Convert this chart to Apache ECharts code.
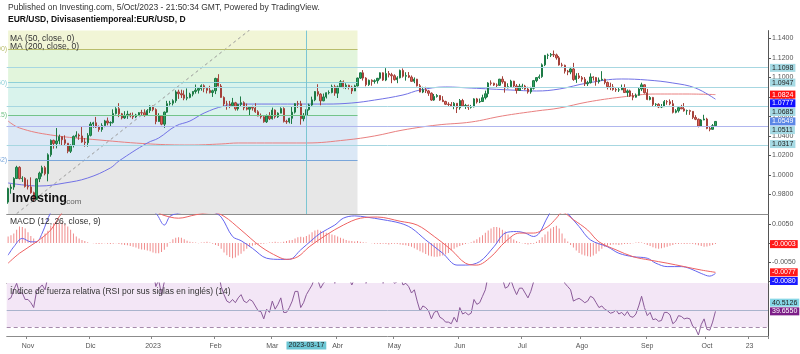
<!DOCTYPE html>
<html>
<head>
<meta charset="utf-8">
<script src="https://cdn.jsdelivr.net/npm/echarts@6/dist/echarts.min.js"></script>
<style>
html,body{margin:0;padding:0;background:#fff}
#chart{width:800px;height:354px}
</style>
</head>
<body>
<div id="chart"></div>
<script>
// EUR/USD diario, 21 oct 2022 - 5 oct 2023
var firstDay = '2022-10-21';
var lastDay = '2023-10-31';   // el eje sigue vacío después de la última vela

// [apertura, cierre, mínimo, máximo] por sesión
var candles = [
  [0.9722,0.9861,0.9705,0.9870],
  [0.9861,0.9876,0.9808,0.9905],[0.9876,0.9964,0.9848,0.9977],[0.9964,1.0078,0.9960,1.0094],[1.0078,0.9963,0.9955,1.0090],[0.9963,0.9966,0.9929,0.9987],
  [0.9966,0.9882,0.9871,0.9977],[0.9882,0.9878,0.9851,0.9953],[0.9878,0.9818,0.9808,0.9976],[0.9818,0.9749,0.9730,0.9829],[0.9749,0.9960,0.9744,0.9966],
  [0.9960,1.0019,0.9927,1.0034],[1.0019,1.0075,0.9983,1.0095],[1.0075,1.0013,0.9996,1.0093],[1.0013,1.0207,0.9935,1.0222],[1.0207,1.0355,1.0187,1.0364],
  [1.0355,1.0322,1.0270,1.0362],[1.0322,1.0349,1.0273,1.0481],[1.0349,1.0393,1.0315,1.0414],[1.0393,1.0361,1.0302,1.0395],[1.0361,1.0325,1.0300,1.0406],
  [1.0325,1.0243,1.0223,1.0328],[1.0243,1.0304,1.0225,1.0313],[1.0304,1.0395,1.0282,1.0405],[1.0395,1.0409,1.0383,1.0448],[1.0409,1.0400,1.0360,1.0425],
  [1.0400,1.0338,1.0330,1.0497],[1.0338,1.0330,1.0290,1.0379],[1.0330,1.0406,1.0290,1.0429],[1.0406,1.0522,1.0395,1.0544],[1.0522,1.0535,1.0484,1.0545],
  [1.0535,1.0491,1.0482,1.0595],[1.0491,1.0466,1.0443,1.0507],[1.0466,1.0506,1.0443,1.0530],[1.0506,1.0554,1.0490,1.0565],[1.0554,1.0533,1.0509,1.0589],
  [1.0533,1.0538,1.0497,1.0550],[1.0538,1.0629,1.0527,1.0673],[1.0629,1.0679,1.0620,1.0695],[1.0679,1.0627,1.0593,1.0736],[1.0627,1.0585,1.0570,1.0636],
  [1.0585,1.0607,1.0575,1.0654],[1.0607,1.0622,1.0575,1.0658],[1.0622,1.0605,1.0590,1.0637],[1.0605,1.0595,1.0573,1.0640],[1.0595,1.0615,1.0583,1.0627],
  [1.0615,1.0639,1.0608,1.0645],[1.0639,1.0637,1.0610,1.0668],[1.0637,1.0612,1.0596,1.0673],[1.0612,1.0661,1.0609,1.0675],[1.0661,1.0705,1.0636,1.0714],
  [1.0705,1.0670,1.0653,1.0711],[1.0670,1.0548,1.0520,1.0683],[1.0548,1.0606,1.0545,1.0633],[1.0606,1.0521,1.0510,1.0612],[1.0521,1.0644,1.0483,1.0651],
  [1.0644,1.0731,1.0637,1.0760],[1.0731,1.0735,1.0712,1.0760],[1.0735,1.0761,1.0713,1.0776],[1.0761,1.0851,1.0740,1.0868],[1.0851,1.0833,1.0780,1.0874],
  [1.0833,1.0821,1.0789,1.0874],[1.0821,1.0787,1.0766,1.0867],[1.0787,1.0795,1.0766,1.0887],[1.0795,1.0828,1.0786,1.0843],[1.0828,1.0856,1.0806,1.0858],
  [1.0856,1.0869,1.0834,1.0927],[1.0869,1.0886,1.0835,1.0888],[1.0886,1.0915,1.0864,1.0929],[1.0915,1.0889,1.0848,1.0929],[1.0889,1.0868,1.0836,1.0900],
  [1.0868,1.0845,1.0836,1.0914],[1.0845,1.0863,1.0800,1.0874],[1.0863,1.0989,1.0829,1.0997],[1.0989,1.0912,1.0908,1.1033],[1.0912,1.0795,1.0792,1.0932],
  [1.0795,1.0728,1.0707,1.0806],[1.0728,1.0727,1.0669,1.0760],[1.0727,1.0711,1.0685,1.0759],[1.0711,1.0740,1.0708,1.0790],[1.0740,1.0678,1.0660,1.0750],
  [1.0678,1.0723,1.0660,1.0730],[1.0723,1.0741,1.0701,1.0805],[1.0741,1.0688,1.0664,1.0755],[1.0688,1.0674,1.0662,1.0732],[1.0674,1.0694,1.0612,1.0700],
  [1.0694,1.0686,1.0660,1.0710],[1.0686,1.0648,1.0637,1.0736],[1.0648,1.0604,1.0602,1.0664],[1.0604,1.0596,1.0577,1.0630],[1.0596,1.0545,1.0536,1.0603],
  [1.0545,1.0605,1.0533,1.0620],[1.0605,1.0576,1.0563,1.0644],[1.0576,1.0665,1.0569,1.0691],[1.0665,1.0596,1.0578,1.0672],[1.0596,1.0634,1.0585,1.0642],
  [1.0634,1.0681,1.0633,1.0694],[1.0681,1.0549,1.0538,1.0694],[1.0549,1.0545,1.0524,1.0566],[1.0545,1.0581,1.0529,1.0586],[1.0581,1.0644,1.0523,1.0702],
  [1.0644,1.0731,1.0630,1.0736],[1.0731,1.0729,1.0687,1.0759],[1.0729,1.0577,1.0516,1.0760],[1.0577,1.0611,1.0550,1.0635],[1.0611,1.0670,1.0610,1.0716],
  [1.0670,1.0717,1.0660,1.0731],[1.0717,1.0770,1.0708,1.0803],[1.0770,1.0855,1.0756,1.0859],[1.0855,1.0828,1.0806,1.0930],[1.0828,1.0760,1.0714,1.0838],
  [1.0760,1.0800,1.0756,1.0835],[1.0800,1.0843,1.0784,1.0846],[1.0843,1.0845,1.0826,1.0867],[1.0845,1.0905,1.0837,1.0926],[1.0905,1.0839,1.0812,1.0925],
  [1.0839,1.0903,1.0789,1.0917],[1.0903,1.0955,1.0893,1.0973],[1.0955,1.0905,1.0887,1.0970],[1.0905,1.0920,1.0880,1.0940],[1.0920,1.0901,1.0877,1.0925],
  [1.0901,1.0861,1.0831,1.0915],[1.0861,1.0913,1.0860,1.0925],[1.0913,1.0993,1.0907,1.0998],[1.0993,1.1047,1.0984,1.1050],[1.1047,1.0993,1.0968,1.1075],
  [1.0993,1.0926,1.0909,1.1002],[1.0926,1.0971,1.0913,1.0978],[1.0971,1.0959,1.0915,1.0980],[1.0959,1.0966,1.0936,1.0980],[1.0966,1.0991,1.0937,1.0995],
  [1.0991,1.1047,1.0978,1.1051],[1.1047,1.0973,1.0964,1.1052],[1.0973,1.1040,1.0962,1.1095],[1.1040,1.1028,1.1000,1.1066],[1.1028,1.1017,1.0941,1.1047],
  [1.1017,1.0977,1.0967,1.1032],[1.0977,1.0996,1.0941,1.1012],[1.0996,1.1072,1.0990,1.1080],[1.1072,1.1012,1.0998,1.1092],[1.1012,1.1019,1.0967,1.1053],
  [1.1019,1.1003,1.0993,1.1055],[1.1003,1.0960,1.0955,1.1020],[1.0960,1.0982,1.0941,1.1000],[1.0982,1.0914,1.0907,1.0985],[1.0914,1.0850,1.0848,1.0932],
  [1.0850,1.0874,1.0839,1.0904],[1.0874,1.0862,1.0840,1.0904],[1.0862,1.0838,1.0811,1.0872],[1.0838,1.0768,1.0760,1.0847],[1.0768,1.0805,1.0760,1.0830],
  [1.0805,1.0815,1.0793,1.0829],[1.0815,1.0768,1.0760,1.0818],[1.0768,1.0753,1.0747,1.0808],[1.0753,1.0725,1.0717,1.0761],[1.0725,1.0723,1.0705,1.0746],
  [1.0723,1.0708,1.0699,1.0747],[1.0708,1.0735,1.0674,1.0747],[1.0735,1.0689,1.0635,1.0736],[1.0689,1.0763,1.0669,1.0779],[1.0763,1.0708,1.0703,1.0780],
  [1.0708,1.0713,1.0677,1.0729],[1.0713,1.0694,1.0667,1.0722],[1.0694,1.0699,1.0681,1.0718],[1.0699,1.0780,1.0693,1.0787],[1.0780,1.0749,1.0732,1.0790],
  [1.0749,1.0753,1.0737,1.0784],[1.0753,1.0792,1.0750,1.0823],[1.0792,1.0833,1.0774,1.0865],[1.0833,1.0943,1.0797,1.0951],[1.0943,1.0940,1.0918,1.0970],
  [1.0940,1.0922,1.0913,1.0946],[1.0922,1.0919,1.0897,1.0939],[1.0919,1.0982,1.0912,1.0985],[1.0982,1.0955,1.0936,1.1012],[1.0955,1.0893,1.0844,1.0960],
  [1.0893,1.0905,1.0888,1.0940],[1.0905,1.0962,1.0898,1.0976],[1.0962,1.0912,1.0897,1.0965],[1.0912,1.0866,1.0834,1.0932],[1.0866,1.0910,1.0864,1.0934],
  [1.0910,1.0911,1.0883,1.0935],[1.0911,1.0881,1.0873,1.0924],[1.0881,1.0852,1.0834,1.0904],[1.0852,1.0889,1.0833,1.0904],[1.0889,1.0967,1.0876,1.0974],
  [1.0967,1.0998,1.0951,1.1001],[1.0998,1.1008,1.0984,1.1030],[1.1008,1.1129,1.0996,1.1144],[1.1129,1.1226,1.1116,1.1230],[1.1226,1.1228,1.1188,1.1244],
  [1.1228,1.1236,1.1209,1.1250],[1.1236,1.1231,1.1209,1.1276],[1.1231,1.1201,1.1182,1.1244],[1.1201,1.1128,1.1121,1.1219],[1.1128,1.1124,1.1110,1.1150],
  [1.1124,1.1064,1.1040,1.1131],[1.1064,1.1055,1.1023,1.1077],[1.1055,1.1087,1.1033,1.1108],[1.1087,1.0978,1.0965,1.1149],[1.0978,1.1016,1.0944,1.1043],
  [1.1016,1.0997,1.0984,1.1046],[1.0997,1.0982,1.0956,1.1014],[1.0982,1.0935,1.0912,1.1004],[1.0935,1.0946,1.0912,1.0965],[1.0946,1.1005,1.0938,1.1042],
  [1.1005,1.0999,1.0968,1.1013],[1.0999,1.0957,1.0915,1.1005],[1.0957,1.0974,1.0937,1.0999],[1.0974,1.0981,1.0967,1.1064],[1.0981,1.0948,1.0929,1.0987],
  [1.0948,1.0906,1.0877,1.0958],[1.0906,1.0903,1.0870,1.0946],[1.0903,1.0876,1.0864,1.0932],[1.0876,1.0871,1.0852,1.0893],[1.0871,1.0873,1.0851,1.0895],
  [1.0873,1.0896,1.0870,1.0927],[1.0896,1.0845,1.0843,1.0930],[1.0845,1.0862,1.0802,1.0877],[1.0862,1.0810,1.0800,1.0874],[1.0810,1.0797,1.0766,1.0840],
  [1.0797,1.0817,1.0793,1.0835],[1.0817,1.0881,1.0812,1.0891],[1.0881,1.0924,1.0860,1.0946],[1.0924,1.0843,1.0834,1.0930],[1.0843,1.0774,1.0767,1.0882],
  [1.0774,1.0795,1.0765,1.0808],[1.0795,1.0723,1.0705,1.0800],[1.0723,1.0725,1.0702,1.0736],[1.0725,1.0697,1.0686,1.0735],[1.0697,1.0700,1.0686,1.0727],
  [1.0700,1.0752,1.0699,1.0768],[1.0752,1.0751,1.0720,1.0767],[1.0751,1.0730,1.0715,1.0775],[1.0730,1.0642,1.0631,1.0768],[1.0642,1.0658,1.0632,1.0675],
  [1.0658,1.0690,1.0640,1.0699],[1.0690,1.0678,1.0675,1.0719],[1.0678,1.0658,1.0649,1.0737],[1.0658,1.0660,1.0617,1.0670],[1.0660,1.0652,1.0616,1.0669],
  [1.0652,1.0590,1.0573,1.0655],[1.0590,1.0571,1.0562,1.0613],[1.0571,1.0502,1.0488,1.0579],[1.0502,1.0564,1.0496,1.0573],[1.0564,1.0573,1.0561,1.0617],
  [1.0573,1.0477,1.0469,1.0586],[1.0477,1.0468,1.0448,1.0497],[1.0468,1.0505,1.0466,1.0522],[1.0505,1.0549,1.0497,1.0553]
];

// medias móviles [fecha, valor]
var ma50 = [
  ['2022-10-21',0.9918],['2022-11-07',0.9887],['2022-11-18',0.9918],['2022-11-30',0.9969],['2022-12-12',1.0072],
  ['2022-12-15',1.0143],['2022-12-29',1.0328],['2023-01-04',1.0379],['2023-01-12',1.0502],['2023-01-19',1.0553],
  ['2023-01-26',1.0635],['2023-02-06',1.0707],['2023-02-14',1.0727],['2023-03-13',1.0727],['2023-03-28',1.0727],
  ['2023-04-10',1.0738],['2023-04-20',1.0768],['2023-05-04',1.0820],['2023-05-12',1.0871],['2023-05-25',1.0902],
  ['2023-06-07',1.0891],['2023-06-16',1.0881],['2023-06-27',1.0871],['2023-07-10',1.0861],['2023-07-20',1.0881],
  ['2023-08-03',1.0943],['2023-08-21',1.0984],['2023-09-01',1.0973],['2023-09-14',1.0943],['2023-09-26',1.0891],
  ['2023-10-05',1.0777]
];
var ma200 = [
  ['2022-10-21',1.0553],['2022-10-27',1.0482],['2022-11-11',1.0410],['2022-12-06',1.0359],['2022-12-30',1.0318],
  ['2023-01-19',1.0307],['2023-02-03',1.0318],['2023-02-13',1.0328],['2023-03-17',1.0328],['2023-04-06',1.0359],
  ['2023-04-20',1.0400],['2023-05-04',1.0461],['2023-05-22',1.0512],['2023-06-07',1.0543],['2023-06-22',1.0605],
  ['2023-07-10',1.0656],['2023-07-20',1.0686],['2023-08-03',1.0748],['2023-08-21',1.0799],['2023-09-06',1.0830],
  ['2023-09-21',1.0830],['2023-10-05',1.0824]
];

// Fibonacci (zona izquierda) y líneas horizontales
var fibEnd = '2023-04-12';
var fibBands = [[1.1480,1.1290,'#f1f5d6'],[1.1290,1.0947,'#e2f5dc'],[1.0947,1.0615,'#d9f3ec'],[1.0615,1.0152,'#dbe8f6'],[1.0152,0.9600,'#e7e7e7']];
var fibLevels = [[1.1290,'#b9bd6c','(1.1290)'],[1.0615,'#74c48a','(1.0615)'],[1.0152,'#7aa6da','(1.0152)'],[1.0947,'#8fd0d8','(1.0950)']];
var hLines = [1.1098, 1.0947, 1.0685, 1.0511, 1.0317];
var trendLine = [['2022-10-26',0.9604],['2023-02-17',1.1486]];
var markedDay = '2023-03-17';

// MACD (12, 26, 9)
var macdLine = [
  ['2022-10-21',-0.0032],['2022-10-25',-0.0010],['2022-10-28',0.0012],['2022-11-02',0.0003],['2022-11-04',0.0003],
  ['2022-11-08',0.0026],['2022-11-11',0.0080],['2022-11-18',0.0133],['2022-11-25',0.0140],['2022-12-02',0.0135],
  ['2022-12-16',0.0118],['2022-12-28',0.0095],['2023-01-03',0.0078],['2023-01-06',0.0047],['2023-01-10',0.0070],
  ['2023-01-13',0.0078],['2023-01-18',0.0083],['2023-01-25',0.0090],['2023-01-31',0.0082],['2023-02-03',0.0068],
  ['2023-02-09',0.0017],['2023-02-14',0.0006],['2023-02-20',-0.0014],['2023-02-27',-0.0040],['2023-03-06',-0.0043],
  ['2023-03-09',-0.0043],['2023-03-15',-0.0018],['2023-03-21',0.0008],['2023-03-24',0.0026],['2023-03-31',0.0047],
  ['2023-04-05',0.0065],['2023-04-11',0.0071],['2023-04-17',0.0068],['2023-04-25',0.0061],['2023-05-03',0.0052],
  ['2023-05-09',0.0039],['2023-05-16',0.0008],['2023-05-24',-0.0027],['2023-05-31',-0.0058],['2023-06-05',-0.0058],
  ['2023-06-12',-0.0049],['2023-06-19',-0.0010],['2023-06-23',0.0026],['2023-06-29',0.0030],['2023-07-04',0.0026],
  ['2023-07-07',0.0017],['2023-07-11',0.0026],['2023-07-14',0.0069],['2023-07-19',0.0100],['2023-07-21',0.0098],
  ['2023-07-25',0.0078],['2023-07-31',0.0043],['2023-08-04',0.0008],['2023-08-14',-0.0010],['2023-08-18',-0.0027],
  ['2023-08-25',-0.0036],['2023-09-01',-0.0040],['2023-09-06',-0.0053],['2023-09-12',-0.0062],['2023-09-19',-0.0062],
  ['2023-09-22',-0.0067],['2023-09-28',-0.0080],['2023-10-03',-0.0087],['2023-10-05',-0.0080]
];
var signalLine = [
  ['2022-10-21',-0.0053],['2022-10-27',-0.0027],['2022-11-04',0.0003],['2022-11-11',0.0034],['2022-11-17',0.0079],
  ['2022-11-25',0.0115],['2022-12-06',0.0130],['2022-12-20',0.0125],['2022-12-30',0.0105],['2023-01-04',0.0079],
  ['2023-01-10',0.0068],['2023-01-13',0.0065],['2023-01-23',0.0074],['2023-01-31',0.0080],['2023-02-06',0.0070],
  ['2023-02-14',0.0034],['2023-02-23',-0.0010],['2023-03-03',-0.0036],['2023-03-08',-0.0043],['2023-03-14',-0.0036],
  ['2023-03-20',-0.0010],['2023-03-28',0.0021],['2023-04-05',0.0047],['2023-04-13',0.0065],['2023-04-21',0.0068],
  ['2023-05-03',0.0057],['2023-05-11',0.0047],['2023-05-19',0.0017],['2023-05-29',-0.0018],['2023-06-05',-0.0053],
  ['2023-06-09',-0.0058],['2023-06-16',-0.0036],['2023-06-23',0.0003],['2023-06-30',0.0026],['2023-07-07',0.0026],
  ['2023-07-14',0.0043],['2023-07-19',0.0065],['2023-07-21',0.0080],['2023-07-27',0.0061],['2023-08-03',0.0034],
  ['2023-08-09',0.0003],['2023-08-17',-0.0018],['2023-08-25',-0.0036],['2023-09-04',-0.0045],['2023-09-12',-0.0053],
  ['2023-09-20',-0.0062],['2023-09-28',-0.0071],['2023-10-05',-0.0077]
];
// histograma, en unidades de 0.0001
var macdHist = [
  17,20,25,35,43,42,38,28,18,12, 5,4,15,25,32,45,52,55,56,54, 50,43,35,25,17,12,8,5,2,0,
  -1,-2,-3,-2,-1,-2,-3,-2,-1,-3, -4,-5,-6,-8,-10,-12,-15,-17,-18,-20, -22,-25,-27,-27,-24,-18,-10,2,10,14,
  15,14,10,6,3,2,1,-1,1,2, 3,1,-2,-5,-8,-15,-25,-32,-37,-40, -38,-33,-28,-22,-15,-10,-7,-5,-4,-3,
  -2,-1,1,2,3,2,1,3,5,7, 8,12,15,16,15,18,22,28,33,35, 32,30,27,25,22,20,17,14,11,8,
  6,5,4,5,3,2,1,0,-1,-2, -2,-3,-2,-3,-4,-3,-2,-3,-4,-5, -6,-8,-10,-14,-18,-22,-25,-29,-33,-35,
  -36,-36,-35,-33,-30,-26,-20,-15,-11,-8, -5,-3,-1,2,6,10,15,20,27,33, 38,42,42,40,35,30,22,15,9,5,
  2,-1,-3,-4,-3,-2,3,8,15,22, 30,38,42,45,38,25,12,4,-5,-12, -20,-26,-30,-33,-35,-36,-33,-28,-22,-15,
  -10,-7,-5,-4,-4,-5,-4,-3,-3,-2, -1,1,2,1,-2,-5,-8,-11,-14,-15, -14,-12,-10,-7,-5,-3,-3,-2,-3,-3,
  -2,-3,-4,-6,-8,-10,-9,-7,-5,-3
];

// RSI (14), una lectura por sesión
var rsi = [
  47,48,53,57,51,51,47,47,45,42, 52,54,56,53,61,66,64,65,67,65, 63,58,61,64,65,64,61,60,63,68,
  68,65,63,65,67,66,66,70,72,67, 64,65,66,64,63,64,65,65,63,66, 68,65,55,59,50,58,63,63,65,70,
  68,67,64,64,66,67,68,69,70,67, 65,63,64,71,64,55,50,46,45,47, 45,48,50,46,45,47,46,43,40,39.5,
  35,41,39,46,41,44,48,39,39,42, 46,52,52,42,45,50,53,56,61,59, 54,57,59,59,62,57,61,64,60,61,
  60,56,60,65,68,63,57,60,59,59, 61,65,57,62,61,60,57,58,62,56, 57,55,51,53,46,40,43,42,40,35,
  39,40,36,35,33,33,32,36,33,42, 38,39,37.5,38.5,47,44,45,49,53,62, 61,59,59,63,60,54,55,59,54,50,
  54,54,51,48,52,58,61,62,69,74, 74,75,74,71,63,62,57,55,53,46, 47,47.7,46.5,45,46,49,48,45,42,43,
  41,40,38.5,39,40.5,38,39,37,39.5,36.5, 36,38,43,49,42,37,39,34.5,35,33.5, 34,39,39,37.5,32,33.5,37,36.5,35,35.5,
  35,30.5,29,25,31.5,35,28.5,28,33,39.655
];
var rsiLevel = 40.5126;

var timeTicks = [
  ['2022-11-01','Nov'],['2022-12-01','Dic'],['2023-01-02','2023'],['2023-02-01','Feb'],['2023-03-01','Mar'],
  ['2023-04-03','Abr'],['2023-05-01','May'],['2023-06-01','Jun'],['2023-07-03','Jul'],['2023-08-01','Ago'],
  ['2023-09-01','Sep'],['2023-10-02','Oct'],['2023-10-23','23']
];

function weekdays(a, b) {
  var out = [], d = new Date(a + 'T00:00:00Z'), e = new Date(b + 'T00:00:00Z');
  while (d <= e) {
    var w = d.getUTCDay();
    if (w !== 0 && w !== 6) out.push(d.toISOString().slice(0, 10));
    d.setUTCDate(d.getUTCDate() + 1);
  }
  return out;
}
var days = weekdays(firstDay, lastDay);
var tickMap = {};
timeTicks.forEach(function (t) { tickMap[t[0]] = t[1]; });

var FONT = '"Liberation Sans", Arial, sans-serif';
var chart = echarts.init(document.getElementById('chart'));
var noLabel = {show: false};

// bandas y líneas de Fibonacci
var fibAreas = fibBands.map(function (b) {
  return [{xAxis: firstDay, yAxis: b[0], itemStyle: {color: b[2]}}, {xAxis: fibEnd, yAxis: b[1]}];
});
var fibMarks = fibLevels.map(function (f) {
  return [{coord: [firstDay, f[0]], lineStyle: {color: f[1], width: 1, type: 'solid'},
           label: {show: true, position: 'start', distance: 1, formatter: f[2], color: f[1], fontSize: 7, fontFamily: FONT}},
          {coord: [fibEnd, f[0]]}];
});
var lastClose = candles[candles.length - 1][1];
var hMarks = hLines.map(function (p) {
  return {yAxis: p, lineStyle: {color: '#a7d7e1', width: 1, type: 'solid'}, label: noLabel};
});
hMarks.push({yAxis: lastClose, lineStyle: {color: '#b0b6ee', width: 1, type: 'solid'}, label: noLabel});

var ma200Last = ma200[ma200.length - 1][1], ma50Last = ma50[ma50.length - 1][1];
var histLast = macdHist[macdHist.length - 1] / 10000;
var sigLast = signalLine[signalLine.length - 1][1];
var macdLast = macdLine[macdLine.length - 1][1];
var rsiLast = rsi[rsi.length - 1];

var hiddenX = function (gi) {
  return {
    type: 'category', gridIndex: gi, data: days, boundaryGap: true,
    axisLine: {show: true, onZero: false, lineStyle: {color: '#8c8c8c', width: 1}},
    axisTick: {show: false}, axisLabel: {show: false}, splitLine: {show: false}
  };
};
var rightY = function (gi, extra) {
  var o = {
    type: 'value', gridIndex: gi, position: 'right', scale: true,
    axisLine: {show: true, lineStyle: {color: '#555'}},
    axisTick: {show: true, length: 3, lineStyle: {color: '#555'}},
    splitLine: {show: false}
  };
  for (var k in extra) o[k] = extra[k];
  return o;
};
var yLabel = function () {
  return {show: true, fontSize: 7, color: '#555', margin: 4, fontFamily: FONT,
    showMinLabel: false, showMaxLabel: false, formatter: function (v) { return v.toFixed(4); }};
};

var rsiMax = 57.2, rsiMin = 24.4;

var baseGraphic = [
  {type: 'text', left: 8, top: 3, style: {text: 'Published on Investing.com, 5/Oct/2023 - 21:50:34 GMT, Powered by TradingView.', fill: '#333', font: '8.5px ' + FONT}},
  {type: 'text', left: 8, top: 15, style: {text: 'EUR/USD, Divisasentiemporeal:EUR/USD, D', fill: '#111', font: 'bold 8.5px ' + FONT}},
  {type: 'text', left: 10, top: 34, z: 10, style: {text: 'MA (50, close, 0)', fill: '#333', font: '8.5px ' + FONT}},
  {type: 'text', left: 10, top: 42, z: 10, style: {text: 'MA (200, close, 0)', fill: '#333', font: '8.5px ' + FONT}},
  {type: 'text', left: 10, top: 217, z: 10, style: {text: 'MACD (12, 26, close, 9)', fill: '#333', font: '8.5px ' + FONT}},
  {type: 'text', left: 10, top: 287, z: 10, style: {text: 'Índice de fuerza relativa (RSI por sus siglas en inglés) (14)', fill: '#333', font: '8.5px ' + FONT}},
  {type: 'text', left: 12, top: 192, z: 10, style: {text: 'Investing', fill: '#111', font: 'bold 12.5px ' + FONT}},
  {type: 'text', left: 64, top: 198, z: 10, style: {text: '.com', fill: '#666', font: '8px ' + FONT}}
];

var option = {
  animation: false,
  backgroundColor: '#fff',
  textStyle: {fontFamily: FONT},
  grid: [
    {left: 6.7, top: 30.6, width: 761.3, height: 183.4},
    {left: 6.7, top: 214, width: 761.3, height: 69},
    {left: 6.7, top: 283, width: 761.3, height: 53}
  ],
  xAxis: [
    hiddenX(0),
    hiddenX(1),
    {
      type: 'category', gridIndex: 2, data: days, boundaryGap: true,
      axisLine: {show: true, onZero: false, lineStyle: {color: '#8c8c8c', width: 1}},
      axisTick: {show: true, length: 3, lineStyle: {color: '#888'}, interval: function (i, v) { return tickMap[v] !== undefined; }},
      axisLabel: {show: true, fontSize: 7, color: '#555', margin: 7, fontFamily: FONT,
        interval: function (i, v) { return tickMap[v] !== undefined; },
        formatter: function (v) { return tickMap[v] || ''; }},
      splitLine: {show: false}
    }
  ],
  yAxis: [
    rightY(0, {min: 0.96, max: 1.148, interval: 0.02, axisLabel: yLabel()}),
    rightY(1, {min: -0.0105, max: 0.0076, splitNumber: 4, axisLabel: yLabel()}),
    rightY(2, {min: rsiMin, max: rsiMax, axisLabel: {show: false}, axisTick: {show: false}})
  ],
  series: [
    {
      name: 'fib', type: 'line', xAxisIndex: 0, yAxisIndex: 0, data: [], z: 1, silent: true,
      markArea: {silent: true, data: fibAreas},
      markLine: {silent: true, symbol: 'none', animation: false, data: fibMarks.concat(hMarks)}
    },
    {
      name: 'tendencia', type: 'line', xAxisIndex: 0, yAxisIndex: 0, data: trendLine, z: 2,
      symbol: 'none', lineStyle: {color: '#9a9a9a', width: 1, type: [3, 3]}, silent: true
    },
    {
      name: 'MA (200, close, 0)', type: 'line', xAxisIndex: 0, yAxisIndex: 0, data: ma200, z: 3,
      smooth: 0.4, symbol: 'none', lineStyle: {color: '#e98080', width: 1}, silent: true
    },
    {
      name: 'MA (50, close, 0)', type: 'line', xAxisIndex: 0, yAxisIndex: 0, data: ma50, z: 3,
      smooth: 0.4, symbol: 'none', lineStyle: {color: '#7272e6', width: 1}, silent: true
    },
    {
      name: 'EUR/USD', type: 'candlestick', xAxisIndex: 0, yAxisIndex: 0, data: candles, z: 4,
      barWidth: 1.8,
      itemStyle: {color: '#2da462', color0: '#e0645a', borderColor: '#1d7a45', borderColor0: '#a4413a', borderWidth: 1},
      markLine: {silent: true, symbol: 'none', animation: false,
        data: [{xAxis: markedDay, lineStyle: {color: '#7cc6d3', width: 1, type: 'solid'}, label: noLabel}]}
    },
    {
      name: 'Histograma', type: 'bar', xAxisIndex: 1, yAxisIndex: 1, barWidth: 1,
      data: macdHist.map(function (v) { return v / 10000; }),
      itemStyle: {color: '#f08c8c'}, silent: true
    },
    {
      name: 'MACD', type: 'line', xAxisIndex: 1, yAxisIndex: 1, data: macdLine, smooth: 0.35,
      symbol: 'none', lineStyle: {color: '#6464ee', width: 1}, silent: true
    },
    {
      name: 'Señal', type: 'line', xAxisIndex: 1, yAxisIndex: 1, data: signalLine, smooth: 0.35,
      symbol: 'none', lineStyle: {color: '#ee6262', width: 1}, silent: true
    },
    {
      name: 'RSI', type: 'line', xAxisIndex: 2, yAxisIndex: 2, data: rsi,
      symbol: 'none', lineStyle: {color: '#8a5a98', width: 1}, silent: true, z: 3,
      markArea: {silent: true, data: [[{yAxis: 30, itemStyle: {color: '#f3e6f6'}}, {yAxis: Math.min(70, rsiMax)}]]},
      markLine: {silent: true, symbol: 'none', animation: false, data: [
        {yAxis: 30, lineStyle: {color: '#a58aab', width: 1, type: [4, 3]}, label: noLabel},
        {yAxis: rsiLevel, lineStyle: {color: '#a9b3cc', width: 1, type: 'solid'}, label: noLabel}
      ]}
    }
  ],
  graphic: baseGraphic
};
chart.setOption(option);

// etiquetas de precio en el eje derecho, colocadas con la escala del eje
var tagX = 770;
function tagElem(text, y, bg, fg) {
  return {type: 'text', x: tagX, y: y, z: 100, silent: true,
    style: {text: text, fill: fg, backgroundColor: bg, font: '7px ' + FONT,
      padding: [1, 2, 0, 2], verticalAlign: 'middle', align: 'left'}};
}
function stackTags(list, axis, dir) {
  // list: [valor, texto, fondo, color]; se separan para que no se solapen
  var pts = list.map(function (t) {
    return {t: t, y: chart.convertToPixel({yAxisIndex: axis}, t[0])};
  });
  pts.sort(function (a, b) { return dir > 0 ? a.y - b.y : b.y - a.y; });
  var out = [], prev = null;
  pts.forEach(function (p) {
    var y = p.y;
    if (prev !== null) y = dir > 0 ? Math.max(y, prev + 8.7) : Math.min(y, prev - 8.7);
    prev = y;
    out.push(tagElem(p.t[1], y, p.t[2], p.t[3]));
  });
  return out;
}
var tags = [];
tags = tags.concat(stackTags(
  hLines.map(function (p) { return [p, p.toFixed(4), '#a6dae4', '#222']; }).concat([
    [lastClose, lastClose.toFixed(4), '#5b87e6', '#fff'],
    [ma200Last, ma200Last.toFixed(4), '#ff1010', '#fff'],
    [ma50Last, ma50Last.toFixed(4), '#1010ff', '#fff']
  ]), 0, 1));
tags = tags.concat(stackTags([
  [histLast, histLast.toFixed(4), '#ff1a1a', '#fff'],
  [sigLast, sigLast.toFixed(4), '#ff1a1a', '#fff'],
  [macdLast, macdLast.toFixed(4), '#1a1aff', '#fff']
], 1, 1));
tags = tags.concat(stackTags([
  [rsiLast, rsiLast.toFixed(4), '#7d1e88', '#fff'],
  [rsiLevel, rsiLevel.toFixed(4), '#86d6e6', '#222']
], 2, -1));
var dayX = chart.convertToPixel({xAxisIndex: 2}, markedDay);
tags.push({type: 'text', x: dayX, y: 345.5, z: 100, silent: true,
  style: {text: markedDay, fill: '#222', backgroundColor: '#6cc6d4', font: '7px ' + FONT,
    padding: [1, 2, 0, 2], verticalAlign: 'middle', align: 'center'}});

chart.setOption({graphic: baseGraphic.concat(tags)});
</script>
</body>
</html>
